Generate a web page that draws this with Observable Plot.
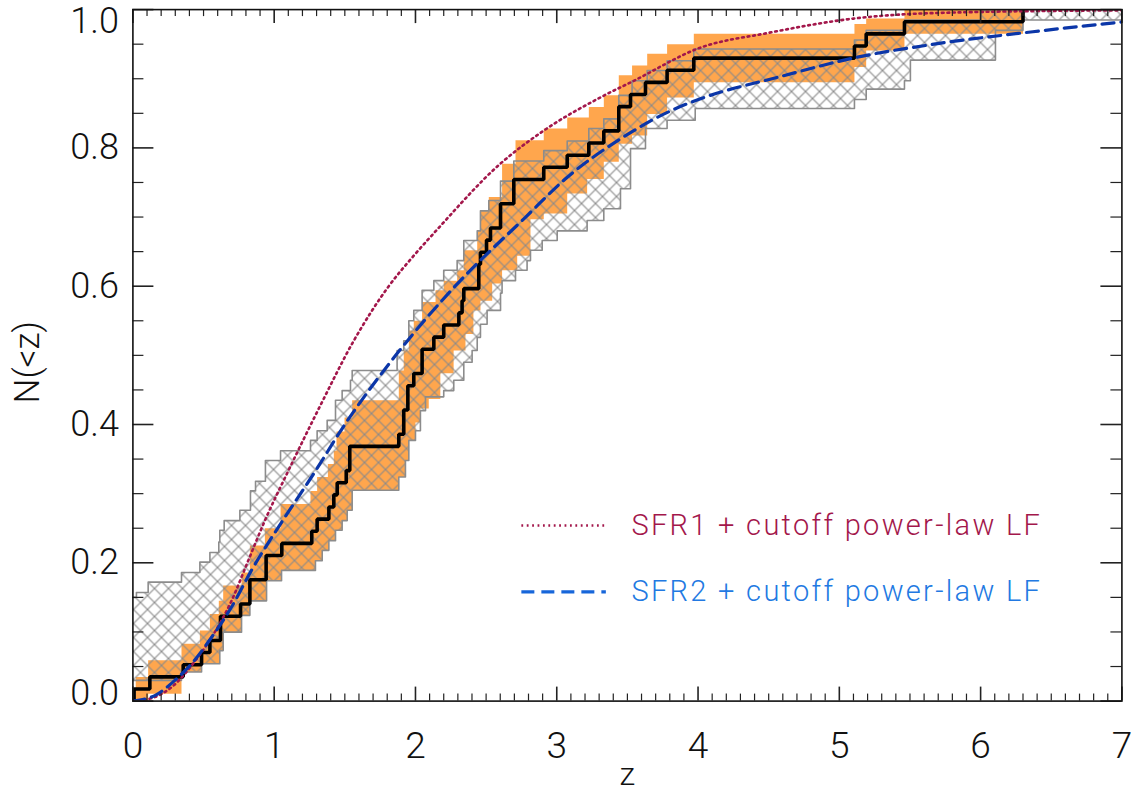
<!DOCTYPE html>
<html><head><meta charset="utf-8">
<script src="https://cdn.jsdelivr.net/npm/d3@7"></script>
<script src="https://cdn.jsdelivr.net/npm/@observablehq/plot@0.6"></script>
<style>
html,body{margin:0;padding:0;background:#fff;}
#chart svg{display:block;}
</style></head><body><div id="chart"></div>
<script>
// ---------------- data ----------------
const N = 57; // sample size of the empirical CDF
const blackX = [0, 0.0085, 0.12, 0.356, 0.486, 0.545, 0.62, 0.762, 0.828, 0.943, 1.054, 1.266, 1.304, 1.387, 1.422, 1.446, 1.51, 1.535, 1.882, 1.917, 1.946, 1.988, 2.047, 2.13, 2.2, 2.307, 2.33, 2.342, 2.448, 2.46, 2.503, 2.531, 2.602, 2.696, 2.908, 3.074, 3.227, 3.333, 3.439, 3.522, 3.628, 3.781, 3.97, 5.107, 5.19, 5.461, 6.30];
const blackK = [0, 1, 2, 3, 4, 5, 7, 8, 10, 12, 13, 14, 15, 16, 17, 18, 19, 21, 22, 24, 26, 27, 29, 30, 31, 32, 33, 34, 36, 37, 38, 39, 41, 43, 44, 45, 46, 47, 49, 50, 51, 52, 53, 54, 55, 56, 57];

const orangeUpperX = [0.02, 0.108, 0.344, 0.474, 0.545, 0.608, 0.639, 0.769, 0.828, 0.934, 1.045, 1.257, 1.304, 1.38, 1.422, 1.441, 1.498, 1.552, 1.882, 1.917, 1.953, 1.988, 2.047, 2.142, 2.2, 2.295, 2.342, 2.437, 2.46, 2.519, 2.613, 2.708, 2.908, 3.074, 3.227, 3.333, 3.439, 3.533, 3.64, 3.781, 3.97, 5.107, 5.19, 5.461];
const orangeUpperY = [0.035, 0.059, 0.083, 0.102, 0.126, 0.145, 0.167, 0.186, 0.225, 0.25, 0.285, 0.304, 0.324, 0.343, 0.362, 0.39, 0.41, 0.435, 0.478, 0.507, 0.536, 0.55, 0.577, 0.594, 0.608, 0.623, 0.652, 0.68, 0.709, 0.729, 0.777, 0.811, 0.828, 0.844, 0.859, 0.876, 0.905, 0.919, 0.936, 0.95, 0.965, 0.979, 0.987, 1.0];
const orangeLowerX = [0.02, 0.108, 0.344, 0.486, 0.615, 0.639, 0.769, 0.828, 0.946, 1.052, 1.292, 1.34, 1.387, 1.434, 1.481, 1.517, 1.552, 1.882, 1.929, 1.953, 2.0, 2.035, 2.094, 2.176, 2.27, 2.354, 2.41, 2.46, 2.543, 2.613, 2.72, 2.814, 2.908, 3.074, 3.215, 3.333, 3.439, 3.533, 3.64, 3.781, 3.97, 5.107, 5.19, 5.461, 6.30];
const orangeLowerY = [0.0, 0.0105, 0.042, 0.054, 0.073, 0.0997, 0.124, 0.145, 0.174, 0.189, 0.203, 0.218, 0.232, 0.247, 0.261, 0.276, 0.305, 0.324, 0.348, 0.377, 0.403, 0.423, 0.437, 0.474, 0.507, 0.531, 0.565, 0.579, 0.604, 0.623, 0.644, 0.697, 0.705, 0.734, 0.755, 0.78, 0.806, 0.818, 0.849, 0.873, 0.895, 0.917, 0.941, 0.965, 1.0];

const hatchUpperX = [0, 0.025, 0.108, 0.344, 0.474, 0.545, 0.608, 0.615, 0.646, 0.757, 0.832, 0.868, 0.938, 1.045, 1.257, 1.304, 1.375, 1.434, 1.481, 1.54, 1.552, 1.87, 1.917, 1.953, 1.988, 2.047, 2.13, 2.2, 2.295, 2.342, 2.437, 2.46, 2.519, 2.602, 2.696, 2.908, 3.074, 3.227, 3.333, 3.439, 3.533, 3.64, 3.781, 3.97, 5.107, 5.19, 5.461, 6.0];
const hatchUpperY = [0.150, 0.157, 0.172, 0.186, 0.201, 0.215, 0.23, 0.247, 0.261, 0.276, 0.304, 0.318, 0.348, 0.362, 0.377, 0.391, 0.406, 0.435, 0.449, 0.464, 0.478, 0.507, 0.521, 0.55, 0.565, 0.594, 0.608, 0.623, 0.637, 0.666, 0.68, 0.709, 0.724, 0.752, 0.781, 0.796, 0.81, 0.828, 0.842, 0.876, 0.897, 0.912, 0.926, 0.943, 0.956, 0.97, 0.985, 1.0];
const hatchLowerX = [0, 0.344, 0.486, 0.615, 0.639, 0.769, 0.828, 0.946, 1.052, 1.292, 1.34, 1.387, 1.434, 1.481, 1.517, 1.552, 1.882, 1.929, 1.953, 2.0, 2.035, 2.071, 2.2, 2.271, 2.342, 2.401, 2.437, 2.46, 2.507, 2.602, 2.613, 2.708, 2.79, 2.814, 2.897, 3.003, 3.215, 3.333, 3.451, 3.522, 3.628, 3.781, 3.98, 5.107, 5.19, 5.461, 5.503, 6.105, 6.30];
const hatchLowerY = [0.03, 0.042, 0.054, 0.073, 0.0997, 0.124, 0.145, 0.174, 0.189, 0.203, 0.218, 0.232, 0.247, 0.261, 0.276, 0.305, 0.324, 0.348, 0.377, 0.391, 0.42, 0.44, 0.449, 0.464, 0.49, 0.507, 0.526, 0.545, 0.565, 0.59, 0.608, 0.623, 0.637, 0.652, 0.666, 0.68, 0.695, 0.712, 0.741, 0.799, 0.828, 0.84, 0.857, 0.870, 0.885, 0.897, 0.927, 0.97, 0.985];

const sfr1X = [0, 0.13, 0.273, 0.462, 0.556, 0.698, 0.816, 0.934, 1.1, 1.328, 1.563, 1.8, 2.0, 2.154, 2.6, 2.908, 3.309, 3.545, 4.017, 4.49, 5.1, 5.67, 7.0];
const sfr1Y = [0, 0.004, 0.02, 0.064, 0.092, 0.145, 0.203, 0.261, 0.333, 0.428, 0.521, 0.597, 0.647, 0.682, 0.777, 0.825, 0.873, 0.897, 0.945, 0.966, 0.987, 0.995, 0.999];
const sfr2X = [0, 0.155, 0.297, 0.415, 0.556, 0.698, 0.839, 1.06, 1.28, 1.5, 1.86, 2.28, 2.78, 3.06, 3.45, 3.81, 4.017, 4.58, 5.1, 5.67, 6.37, 7.0];
const sfr2Y = [0, 0.008, 0.03, 0.054, 0.092, 0.136, 0.189, 0.261, 0.329, 0.4, 0.5, 0.6, 0.7, 0.755, 0.813, 0.854, 0.871, 0.903, 0.93, 0.95, 0.968, 0.982];

const xTickLabels = [0, 1, 2, 3, 4, 5, 6, 7];
const yTickLabels = [0, 0.2, 0.4, 0.6, 0.8, 1.0];
const legendItems = [
  {label: "SFR1 + cutoff power-law LF", y: 0.254},
  {label: "SFR2 + cutoff power-law LF", y: 0.158}
];

// ---------------- layout ----------------
const W = 1140, H = 795;
const M = {top: 9.1, right: 18.6, bottom: 94.4, left: 132.4};
const innerW = W - M.left - M.right, innerH = H - M.top - M.bottom;
const FONT = "Roboto, 'Open Sans', 'DejaVu Sans', sans-serif";
const legendX = {x1: 2.753, x2: 3.351, text: 3.529};

// staircase vertices of a step-after function
function stairs(xs, ys, xEnd) {
  const pts = [{x: xs[0], y: ys[0]}];
  for (let i = 1; i < xs.length; i++) pts.push({x: xs[i], y: ys[i - 1]}, {x: xs[i], y: ys[i]});
  if (xEnd != null) pts.push({x: xEnd, y: ys[ys.length - 1]});
  return pts;
}
const hatchTop = stairs(hatchUpperX, hatchUpperY, 7);
const hatchBot = stairs(hatchLowerX, hatchLowerY, 7);
const hatchPoly = [...hatchTop, ...hatchBot.slice().reverse()];
const orangeTop = stairs(orangeUpperX, orangeUpperY, orangeLowerX[orangeLowerX.length - 1]);
const orangeBot = stairs(orangeLowerX, orangeLowerY);
const orangePoly = [...orangeTop, ...orangeBot.slice().reverse()];
const cdf = blackX.map((x, i) => ({x, y: blackK[i] / N}));
const sfr1 = sfr1X.map((x, i) => ({x, y: sfr1Y[i]}));
const sfr2 = sfr2X.map((x, i) => ({x, y: sfr2Y[i]}));

const xMinor = d3.range(0, 70.5, 1).map(d => d / 10).filter(d => Math.abs(d - Math.round(d)) > 1e-6);
const yMinor = d3.range(0, 20.5, 1).map(d => d / 20).filter(d => Math.abs(d * 5 - Math.round(d * 5)) > 1e-6);
const TICK = "#222";
const LBL = {fontWeight: 300, fill: "#111", lineAnchor: "middle"};

const chart = Plot.plot({
  width: W, height: H,
  marginTop: M.top, marginRight: M.right, marginBottom: M.bottom, marginLeft: M.left,
  style: {fontFamily: FONT, background: "#fff"},
  x: {domain: [0, 7], axis: null},
  y: {domain: [0, 1], axis: null},
  marks: [
    Plot.line(orangePoly, {x: "x", y: "y", fill: "#FFA64D", stroke: "none", clip: true}),
    Plot.line(hatchPoly, {x: "x", y: "y", fill: "url(#xhatch)", stroke: "none", clip: true}),
    Plot.line(hatchTop, {x: "x", y: "y", stroke: "#8c8c8c", strokeWidth: 1.6, clip: true}),
    Plot.line(hatchBot, {x: "x", y: "y", stroke: "#8c8c8c", strokeWidth: 1.6, clip: true}),
    Plot.line(cdf, {x: "x", y: "y", curve: "step-after", stroke: "#000", strokeWidth: 3.6, strokeLinejoin: "miter", clip: true}),
    Plot.line(sfr1, {x: "x", y: "y", curve: "monotone-x", stroke: "#A3174B", strokeWidth: 2.6, strokeDasharray: "1.8,3.8", clip: true}),
    Plot.line(sfr2, {x: "x", y: "y", curve: "monotone-x", stroke: "#0B36A8", strokeWidth: 3.2, strokeDasharray: "12,7", clip: true}),
    // legend
    Plot.ruleY([legendItems[0]], {y: "y", x1: legendX.x1, x2: legendX.x2, stroke: "#A3174B", strokeWidth: 2.6, strokeDasharray: "1.8,3.6"}),
    Plot.ruleY([legendItems[1]], {y: "y", x1: legendX.x1, x2: legendX.x2, stroke: "#1766DA", strokeWidth: 3.4, strokeDasharray: "13,7"}),
    Plot.text([legendItems[0]], {x: legendX.text, y: "y", text: "label", fill: "#A3174B", textAnchor: "start", lineAnchor: "middle", fontSize: 29, fontWeight: 300}),
    Plot.text([legendItems[1]], {x: legendX.text, y: "y", text: "label", fill: "#2279E2", textAnchor: "start", lineAnchor: "middle", fontSize: 29, fontWeight: 300}),
    // ticks (inward on all four sides)
    Plot.tickX(xMinor, {x: d => d, insetTop: innerH - 7, stroke: TICK, strokeWidth: 1.2}),
    Plot.tickX(xMinor, {x: d => d, insetBottom: innerH - 7, stroke: TICK, strokeWidth: 1.2}),
    Plot.tickX(xTickLabels, {x: d => d, insetTop: innerH - 14, stroke: TICK, strokeWidth: 1.6}),
    Plot.tickX(xTickLabels, {x: d => d, insetBottom: innerH - 14, stroke: TICK, strokeWidth: 1.6}),
    Plot.tickY(yMinor, {y: d => d, insetRight: innerW - 11, stroke: TICK, strokeWidth: 1.2}),
    Plot.tickY(yMinor, {y: d => d, insetLeft: innerW - 11, stroke: TICK, strokeWidth: 1.2}),
    Plot.tickY(yTickLabels, {y: d => d, insetRight: innerW - 21, stroke: TICK, strokeWidth: 1.6}),
    Plot.tickY(yTickLabels, {y: d => d, insetLeft: innerW - 21, stroke: TICK, strokeWidth: 1.6}),
    Plot.frame({stroke: "#111", strokeWidth: 1.6}),
    // tick labels
    Plot.text(xTickLabels, {x: d => d, frameAnchor: "bottom", dy: 45, textAnchor: "middle", text: d => String(d), fontSize: 37, ...LBL}),
    Plot.text(yTickLabels.filter(v => v > 0 && v < 1), {y: d => d, frameAnchor: "left", dx: -14, textAnchor: "end", text: d => d.toFixed(1), fontSize: 36, ...LBL}),
    Plot.text(yTickLabels.filter(v => v === 0), {y: d => d, frameAnchor: "left", dx: -14, dy: -8, textAnchor: "end", text: d => d.toFixed(1), fontSize: 36, ...LBL}),
    Plot.text(yTickLabels.filter(v => v === 1), {y: d => d, frameAnchor: "left", dx: -14, dy: 12, textAnchor: "end", text: d => d.toFixed(1), fontSize: 36, ...LBL}),
    // axis titles
    Plot.text(["z"], {x: 3.5, frameAnchor: "bottom", dy: 74, textAnchor: "middle", text: d => d, fontSize: 32, ...LBL}),
    Plot.text(["N(<z)"], {y: 0.49, frameAnchor: "left", dx: -105, rotate: -90, textAnchor: "middle", text: d => d, fontSize: 35, ...LBL})
  ]
});

const ns = "http://www.w3.org/2000/svg";
const defs = document.createElementNS(ns, "defs");
defs.innerHTML = '<pattern id="xhatch" patternUnits="userSpaceOnUse" width="14" height="14"><path d="M-1,-1L15,15M15,-1L-1,15" stroke="#8a8a8a" stroke-width="1.1" fill="none"/></pattern>';
chart.insertBefore(defs, chart.firstChild);
chart.querySelectorAll("text").forEach(t => {
  if (legendItems.some(d => d.label === t.textContent)) t.setAttribute("letter-spacing", "2.3");
});
document.getElementById("chart").appendChild(chart);
</script>
</body></html>
